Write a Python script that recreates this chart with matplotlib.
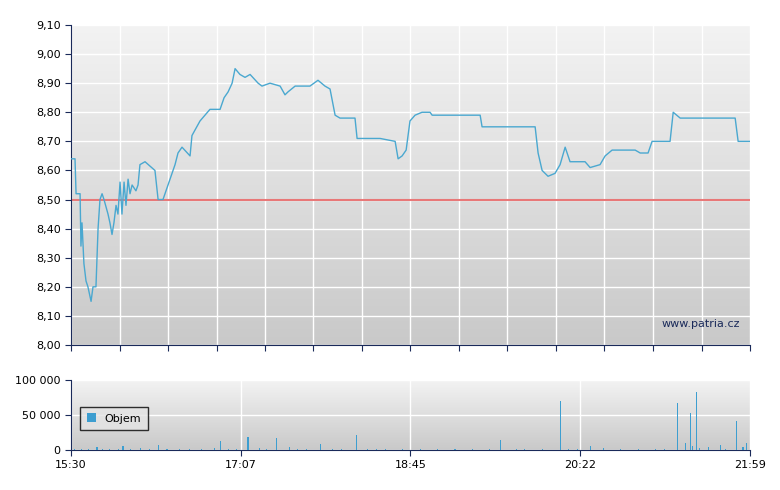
import numpy as np
import matplotlib.pyplot as plt

# minutes after 15:30
price_t = [0, 2.3, 2.9, 5.2, 5.7, 6.3, 7.4, 8.6, 9.7, 11.5, 12.6, 14.3, 15.5, 16.6, 17.8, 18.9,
           21.2, 22.3, 23.5, 24.6, 25.8, 26.9, 28.1, 29.2, 30.4, 31.5, 32.7, 33.8, 35.0, 37.2,
           38.4, 39.5, 42.4, 48.1, 49.9, 52.7, 59.6, 61.3, 63.6, 68.2, 69.3, 73.9, 79.6, 85.4,
           87.7, 90.0, 92.3, 94.0, 96.8, 99.7, 102.6, 107.2, 109.4, 114.0, 119.8, 122.6, 124.3,
           128.4, 136.9, 141.5, 145.5, 148.4, 151.3, 154.1, 162.7, 163.9, 177.1, 185.7, 187.4,
           189.7, 192.0, 194.2, 197.1, 201.1, 205.7, 206.9, 234.4, 235.5, 265.9, 267.6, 269.9,
           273.3, 277.3, 280.2, 283.1, 285.9, 294.5, 297.4, 303.1, 306.0, 310.0, 323.2, 326.1,
           330.6, 332.9, 343.2, 345.0, 349.0, 380.5, 382.2, 389]
price = [8.64, 8.64, 8.52, 8.52, 8.34, 8.42, 8.28, 8.22, 8.20, 8.15, 8.20, 8.20, 8.40, 8.50, 8.52, 8.50,
         8.45, 8.42, 8.38, 8.42, 8.48, 8.45, 8.56, 8.45, 8.56, 8.48, 8.57, 8.52, 8.55, 8.53,
         8.55, 8.62, 8.63, 8.60, 8.50, 8.50, 8.62, 8.66, 8.68, 8.65, 8.72, 8.77, 8.81, 8.81,
         8.85, 8.87, 8.90, 8.95, 8.93, 8.92, 8.93, 8.90, 8.89, 8.90, 8.89, 8.86, 8.87,
         8.89, 8.89, 8.91, 8.89, 8.88, 8.79, 8.78, 8.78, 8.71, 8.71, 8.70, 8.64,
         8.65, 8.67, 8.77, 8.79, 8.80, 8.80, 8.79, 8.79, 8.75, 8.75, 8.66, 8.60,
         8.58, 8.59, 8.62, 8.68, 8.63, 8.63, 8.61, 8.62, 8.65, 8.67, 8.67, 8.66,
         8.66, 8.70, 8.70, 8.80, 8.78, 8.78, 8.70, 8.70]
ref_price = 8.50

spike_t = [14.9, 29.8, 50.4, 85.4, 101.4, 118.0, 142.7, 163.3, 245.8, 280.2, 297.4,
           347.2, 351.8, 354.7, 355.8, 358.1, 371.9, 381.0, 386.8]
spike_v = [5000, 6000, 7000, 13000, 19000, 17000, 8000, 22000, 14000, 70000, 6000,
           67000, 10000, 53000, 6000, 83000, 7000, 42000, 10000]
base_t = [2, 6, 10, 18, 22, 27, 34, 40, 45, 55, 62, 68, 75, 82, 90, 95, 108, 112, 125, 130,
          135, 150, 155, 170, 175, 180, 190, 200, 210, 220, 230, 240, 255, 260, 270, 285,
          290, 305, 315, 325, 335, 340, 360, 365, 375, 385]
base_v = [2000, 1500, 1200, 1800, 1000, 1500, 1200, 2500, 1000, 1300, 1000, 800, 1200, 3000, 1500,
          1200, 2500, 1500, 4000, 1500, 1200, 1500, 1200, 1000, 1000, 1000, 800, 1000, 1200, 1000,
          1000, 900, 1000, 1500, 900, 1800, 2000, 3000, 1200, 1000, 1000, 1200, 2500, 4000, 2000, 5000]

navy = '#1a2a5a'
fig = plt.figure(figsize=(7.8, 4.9), dpi=100)
ax = fig.add_axes([71/780, 1-345/490, 679/780, 320/490])
av = fig.add_axes([71/780, 1-450/490, 679/780, 70/490])

for a in (ax, av):
    grad = np.linspace(0, 1, 256).reshape(-1, 1)
    a.imshow(grad, cmap=plt.matplotlib.colors.LinearSegmentedColormap.from_list('g', ['#f3f3f3', '#c9c9c9']),
             aspect='auto', extent=[0, 1, 0, 1], transform=a.transAxes, zorder=0)
    a.set_xlim(0, 389)
    a.grid(True, color='white', lw=1)
    a.set_axisbelow(True)
    for s in ('top', 'right'):
        a.spines[s].set_visible(False)
    a.spines['left'].set_color(navy)
    a.spines['bottom'].set_color(navy)
    a.tick_params(colors=navy, labelcolor='black', labelsize=8, length=4)

ax.plot(price_t, price, color='#4aa8d0', lw=1, zorder=3)
ax.axhline(ref_price, color='#e87878', lw=1.5, zorder=2)
ax.set_ylim(8.0, 9.1)
ax.set_yticks(np.arange(8.0, 9.11, 0.1))
ax.set_yticklabels([f'{v:.2f}'.replace('.', ',') for v in np.arange(8.0, 9.11, 0.1)])
ax.set_xticks(np.linspace(0, 389, 15))
ax.set_xticklabels([])
ax.text(0.985, 0.05, 'www.patria.cz', transform=ax.transAxes, ha='right', va='bottom',
        fontsize=8, color=navy, zorder=4)

av.bar(base_t + spike_t, base_v + spike_v, width=0.6, color='#3d9ed0', zorder=3, label='Objem')
av.set_ylim(0, 100000)
av.set_yticks([0, 50000, 100000])
av.set_yticklabels(['0', '50 000', '100 000'])
av.set_xticks(np.linspace(0, 389, 5))
av.set_xticklabels(['15:30', '17:07', '18:45', '20:22', '21:59'])
leg = av.legend(loc='center left', bbox_to_anchor=(0.005, 0.45), fontsize=8, frameon=True,
                fancybox=False, handlelength=0.8, handleheight=0.8, borderpad=0.6)
leg.get_frame().set_edgecolor('black')
leg.get_frame().set_facecolor('#e4e4e4')

fig.savefig('out.png', dpi=100)
